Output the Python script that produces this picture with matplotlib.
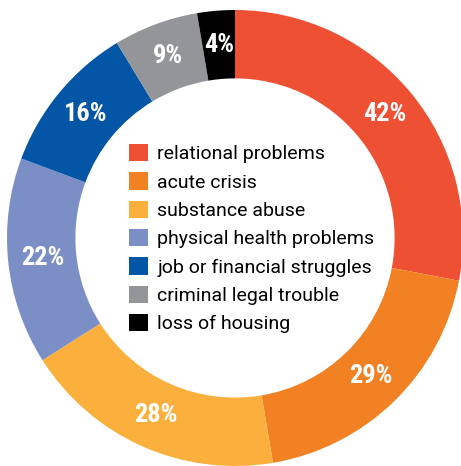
import matplotlib
matplotlib.use("Agg")
import matplotlib.pyplot as plt
from matplotlib.patches import Patch

# shares of cases (do not sum to 100: multiple reasons allowed)
categories = ["relational problems", "acute crisis", "substance abuse",
              "physical health problems", "job or financial struggles",
              "criminal legal trouble", "loss of housing"]
values = [42, 29, 28, 22, 16, 9, 4]
colors = ["#EE5034", "#F28123", "#FBAF3C", "#7B8EC6", "#0355A6", "#939598", "#000000"]

W, H = 461, 466
R = 228.0
cx, cy = 235.0, 238.0

fig = plt.figure(figsize=(W / 100, H / 100), dpi=100)
ax = fig.add_axes([0, 0, 1, 1])

wedges, texts, autotexts = ax.pie(
    values, colors=colors, startangle=90, counterclock=False,
    radius=1.0, wedgeprops=dict(width=0.3, linewidth=0),
    autopct="%d", pctdistance=0.85,
    textprops=dict(color="white", fontsize=19, fontweight="bold",
                   fontstretch="condensed",
                   family=["Roboto Condensed", "Liberation Sans Narrow", "DejaVu Sans"]))
for t, v in zip(autotexts, values):
    t.set_text(f"{v}%")

ax.set_xlim(-cx / R, (W - cx) / R)
ax.set_ylim(-(H - cy) / R, cy / R)
ax.set_aspect("equal")
ax.axis("off")

handles = [Patch(facecolor=c, edgecolor="none") for c in colors]
leg = fig.legend(handles, categories, loc="upper left",
                 bbox_to_anchor=(129 / W, 1 - 144 / H), bbox_transform=fig.transFigure,
                 frameon=False, borderpad=0, borderaxespad=0,
                 handlelength=1.0, handleheight=1.0, handletextpad=0.45,
                 labelspacing=0.46,
                 prop=dict(family=["Roboto", "DejaVu Sans"], size=14.0))

fig.savefig("out.png", dpi=100)
